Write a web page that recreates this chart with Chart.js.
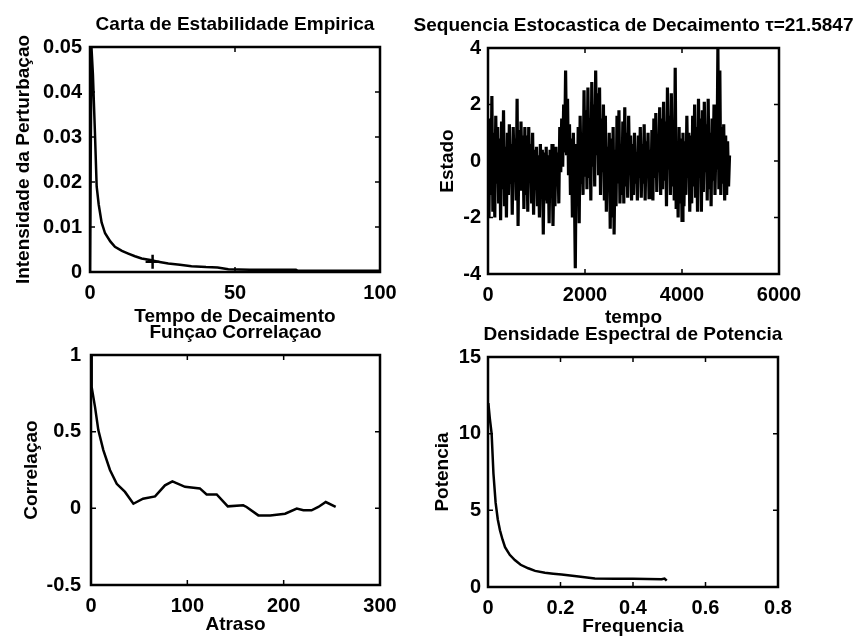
<!DOCTYPE html>
<html>
<head>
<meta charset="utf-8">
<script src="https://cdn.jsdelivr.net/npm/chart.js@4.4.1/dist/chart.umd.min.js"></script>
<style>
  html, body { margin: 0; padding: 0; background: #fff; }
  #wrap { position: relative; width: 862px; height: 640px; }
  #wrap canvas { position: absolute; left: 0; top: 0; }
</style>
</head>
<body>
<div id="wrap">
  <canvas id="cEstab" width="862" height="640"></canvas>
  <canvas id="cSeq" width="862" height="640"></canvas>
  <canvas id="cCorr" width="862" height="640"></canvas>
  <canvas id="cPsd" width="862" height="640"></canvas>
</div>
<script>
// Carta de Estabilidade Empirica
const decayTime = [0, 0.5, 1, 1.7, 2.3, 3, 4, 5.2, 7, 8.6, 11, 13.2, 15.5, 17.8, 21.3, 24, 27, 31, 35, 40, 44, 47.7, 55, 71, 71.5, 100];
const decayIntensity = [0, 0.05, 0.044, 0.031, 0.019, 0.015, 0.011, 0.0086, 0.0068, 0.0056, 0.0047, 0.0041, 0.0035, 0.003, 0.0026, 0.0022, 0.0019, 0.0016, 0.0013, 0.0011, 0.001, 0.0006, 0.0005, 0.0005, 0.0003, 0.0003];
const tauPoint = { x: 21.5847, y: 0.0023 };
const estabXTicks = [0, 50, 100];
const estabYTicks = [0, 0.01, 0.02, 0.03, 0.04, 0.05];

// Sequencia Estocastica de Decaimento (amostra a cada 20 passos)
const seqStep = 20;
const seqState = [
  0.3, -2, 1.5, -1.2, 2.3, -1.8, 1, -2, 1.6, -0.8,
  1.2, -1.5, 0.8, -2.1, 1.4, -1, 1.8, -1.6, 0.5, -2,
  1, -1.2, 1.3, -0.8, 0.6, -1.9, 1.2, -0.5, 0.8, -1.4,
  2.2, -2.3, 1.1, -1, 1.4, -0.6, 0.9, -1.7, 1.2, -1.2,
  0.9, -1.8, 1.2, -0.7, 0.6, -1.5, 1, -1.9, 0.4, -1,
  0.5, -1.6, 0.2, -2, 0.6, -1, 0.4, -2.6, 0.3, -1.4,
  0.5, -1.5, 0.2, -2.2, 0.4, -1.2, 0.6, -2.3, -0.2, -1.6,
  0.5, -0.8, 0.3, -1.5, 1.2, -0.4, 1.5, -0.2, 2, 0.3,
  3.2, 0.2, 2.2, -0.5, 1.3, -1.2, 0.8, -2, 1, -0.8,
  -3.8, 0.6, -1.5, 1.2, -2.2, 1.6, -0.8, 0.5, -1.2, 2.5,
  -0.5, 1.8, -1, 2.6, -0.6, 1.5, -1.4, 2.8, -0.2, 2,
  -0.9, 3.2, 0.2, 2.4, -0.5, 2.6, -1.2, 1.5, -0.4, 2,
  -1.4, 1.6, -1.8, 0.5, -1, 1, -2.4, 0.8, -2, 1.2,
  -2.6, 0.4, -1.6, 1.6, -0.8, 1.8, -1.5, 0.6, -1.2, 1.4,
  -1.5, 1.9, -0.9, 1, -1.3, 1.6, -0.5, 0.9, -1.4, 0.6,
  -1.2, 1, -0.8, 0.3, -1.4, 0.9, -0.6, 1.2, -1.3, 0.6,
  -0.8, 1.3, -1.4, 0.7, -0.5, 1, -1.3, 0.4, -1, 1.1,
  -1.4, 1.5, -0.6, 1.7, -1.1, 0.8, -0.4, 1.9, -1.2, 1.5,
  -1, 2.1, -0.7, 1.4, -1.6, 2.6, -0.3, 1.6, -1.2, 2.4,
  -0.9, 1, -1.4, 3.3, -1.7, 0.6, -2, 1.2, -1.5, 0.8,
  -2.1, 1, -1.6, 0.7, -1.2, 1.6, -0.6, 1, -1.8, 0.9,
  -1.5, 1.6, -0.9, 2, -1.3, 1.2, -1.8, 2.2, -0.6, 1.5,
  -1.8, 1.8, -1.1, 2.1, -0.4, 1.3, -1.4, 2.2, -1, 1,
  -1.6, 1.5, -0.7, 2, -1.2, 0.8, -0.3, 4, -1, 3.2,
  -1.2, 1.2, -0.8, 1.3, -1.4, 0.9, -1.2, 0.7, -0.9, 0.2
];
const seqXTicks = [0, 2000, 4000, 6000];
const seqYTicks = [-4, -2, 0, 2, 4];

// Funçao Correlaçao
const corrLag = [0, 0.7, 4.2, 7.6, 12.8, 19.7, 26.7, 35.3, 44, 54, 66.5, 76.8, 84.5, 97.6, 113, 120, 130.5, 142, 158, 161.5, 173.7, 186, 201.5, 213.6, 220.5, 229, 236, 243.7, 254];
const corrValue = [1, 0.79, 0.66, 0.51, 0.38, 0.25, 0.16, 0.107, 0.03, 0.063, 0.078, 0.15, 0.176, 0.14, 0.13, 0.091, 0.091, 0.013, 0.02, 0.009, -0.046, -0.046, -0.035, -0.002, -0.013, -0.013, 0.009, 0.041, 0.009];
const corrXTicks = [0, 100, 200, 300];
const corrYTicks = [-0.5, 0, 0.5, 1];

// Densidade Espectral de Potencia
const psdFreq = [0.001, 0.005, 0.01, 0.015, 0.021, 0.027, 0.033, 0.04, 0.047, 0.06, 0.074, 0.09, 0.111, 0.13, 0.157, 0.18, 0.203, 0.25, 0.295, 0.35, 0.4, 0.479, 0.487, 0.493];
const psdPower = [12, 11, 10, 7.4, 5.5, 4.4, 3.7, 3.1, 2.6, 2.1, 1.76, 1.45, 1.22, 1.05, 0.93, 0.87, 0.82, 0.68, 0.56, 0.54, 0.53, 0.5, 0.55, 0.41];
const psdXTicks = [0, 0.2, 0.4, 0.6, 0.8];
const psdYTicks = [0, 5, 10, 15];

const FONT = '"Liberation Sans", Arial, Helvetica, sans-serif';

// moldura estilo MATLAB: caixa, ticks para dentro e título
const matlabFrame = {
  id: "matlabFrame",
  afterDatasetsDraw(chart, args, opts) {
    const { ctx, chartArea: a, scales } = chart;
    const tl = 5;
    ctx.save();
    ctx.strokeStyle = "#000";
    ctx.lineWidth = 1.5;
    ctx.beginPath();
    scales.x.ticks.forEach((t) => {
      const px = scales.x.getPixelForValue(t.value);
      ctx.moveTo(px, a.bottom); ctx.lineTo(px, a.bottom - tl);
      ctx.moveTo(px, a.top); ctx.lineTo(px, a.top + tl);
    });
    scales.y.ticks.forEach((t) => {
      const py = scales.y.getPixelForValue(t.value);
      ctx.moveTo(a.left, py); ctx.lineTo(a.left + tl, py);
      ctx.moveTo(a.right, py); ctx.lineTo(a.right - tl, py);
    });
    ctx.stroke();
    ctx.lineWidth = 2.5;
    ctx.strokeRect(a.left, a.top, a.right - a.left, a.bottom - a.top);
    if (opts.text) {
      ctx.fillStyle = "#000";
      ctx.font = "bold 19px " + FONT;
      ctx.textAlign = "center";
      ctx.textBaseline = "middle";
      ctx.fillText(opts.text, (a.left + a.right) / 2, a.top - 22);
    }
    ctx.restore();
  },
};
Chart.register(matlabFrame);

function toXY(xs, ys) {
  return xs.map((x, i) => ({ x, y: ys[i] }));
}

function makePanel(id, p) {
  const tickFont = { family: FONT, size: 20, weight: "bold" };
  const titleFont = { family: FONT, size: 19, weight: "bold", lineHeight: 1.2 };
  return new Chart(document.getElementById(id), {
    type: "line",
    data: { datasets: p.datasets },
    options: {
      responsive: false,
      animation: false,
      events: [],
      layout: { padding: p.padding },
      plugins: {
        legend: { display: false },
        tooltip: { enabled: false },
        matlabFrame: { text: p.title },
      },
      scales: {
        x: {
          type: "linear",
          min: p.xTicks[0],
          max: p.xTicks[p.xTicks.length - 1],
          afterBuildTicks: (s) => { s.ticks = p.xTicks.map((v) => ({ value: v })); },
          afterFit: (s) => { s.height = p.xh; },
          grid: { display: false, drawTicks: false },
          border: { display: false },
          ticks: { color: "#000", font: tickFont, padding: 9, maxRotation: 0, callback: (v) => String(v) },
          title: { display: true, text: p.xLabel, color: "#000", font: titleFont, padding: 0 },
        },
        y: {
          type: "linear",
          min: p.yTicks[0],
          max: p.yTicks[p.yTicks.length - 1],
          afterBuildTicks: (s) => { s.ticks = p.yTicks.map((v) => ({ value: v })); },
          afterFit: (s) => { s.width = p.yw; },
          grid: { display: false, drawTicks: false },
          border: { display: false },
          ticks: { color: "#000", font: tickFont, padding: p.yPad, callback: (v) => String(v) },
          title: { display: true, text: p.yLabel, color: "#000", font: titleFont, padding: { top: p.yTitlePad, bottom: 0 } },
        },
      },
    },
  });
}

const lineStyle = { borderColor: "#000", borderWidth: 2.5, pointRadius: 0, tension: 0, fill: false };

makePanel("cEstab", {
  title: "Carta de Estabilidade Empirica",
  xLabel: "Tempo de Decaimento",
  yLabel: "Intensidade da Perturbaçao",
  xTicks: estabXTicks, yTicks: estabYTicks,
  padding: { left: 0, top: 47, right: 482, bottom: 312 },
  yw: 90, xh: 56, yPad: 8, yTitlePad: 12,
  datasets: [
    { ...lineStyle, data: toXY(decayTime, decayIntensity) },
    { data: [tauPoint], showLine: false, pointStyle: "cross", pointRadius: 7, borderWidth: 2.5, borderColor: "#000" },
  ],
});

makePanel("cSeq", {
  title: "Sequencia Estocastica de Decaimento τ=21.5847",
  xLabel: "tempo",
  yLabel: "Estado",
  xTicks: seqXTicks, yTicks: seqYTicks,
  padding: { left: 428, top: 48, right: 83, bottom: 311 },
  yw: 60, xh: 55, yPad: 7, yTitlePad: 8,
  datasets: [
    { ...lineStyle, borderWidth: 3.2, data: seqState.map((v, i) => ({ x: i * seqStep, y: v })) },
  ],
});

makePanel("cCorr", {
  title: "Funçao Correlaçao",
  xLabel: "Atraso",
  yLabel: "Correlaçao",
  xTicks: corrXTicks, yTicks: corrYTicks,
  padding: { left: 0, top: 355, right: 482, bottom: 4 },
  yw: 91, xh: 51, yPad: 10, yTitlePad: 20,
  datasets: [{ ...lineStyle, data: toXY(corrLag, corrValue) }],
});

makePanel("cPsd", {
  title: "Densidade Espectral de Potencia",
  xLabel: "Frequencia",
  yLabel: "Potencia",
  xTicks: psdXTicks, yTicks: psdYTicks,
  padding: { left: 428, top: 357, right: 84, bottom: 2 },
  yw: 60, xh: 51, yPad: 7, yTitlePad: 3,
  datasets: [{ ...lineStyle, data: toXY(psdFreq, psdPower) }],
});
</script>
</body>
</html>
